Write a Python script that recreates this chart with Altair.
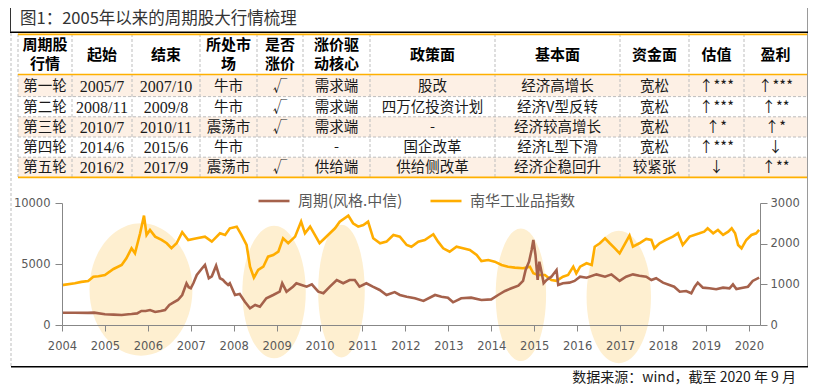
import altair as alt
import pandas as pd

# ======================= DATA =======================
title_text = "图1：2005年以来的周期股大行情梳理"
source_text = "数据来源：wind，截至 2020 年 9 月"

header = ["周期股\n行情", "起始", "结束", "所处市\n场", "是否\n涨价", "涨价驱\n动核心",
          "政策面", "基本面", "资金面", "估值", "盈利"]
rounds = ["第一轮", "第二轮", "第三轮", "第四轮", "第五轮"]
starts = ["2005/7", "2008/11", "2010/7", "2014/6", "2016/2"]
ends = ["2007/10", "2009/8", "2010/11", "2015/6", "2017/9"]
market = ["牛市", "牛市", "震荡市", "牛市", "震荡市"]
price_up = ["√", "√", "√", "", "√"]
driver = ["需求端", "需求端", "需求端", "-", "供给端"]
policy = ["股改", "四万亿投资计划", "-", "国企改革", "供给侧改革"]
fundamentals = ["经济高增长", "经济V型反转", "经济较高增长", "经济L型下滑", "经济企稳回升"]
liquidity = ["宽松", "宽松", "宽松", "宽松", "较紧张"]
valuation = ["↑***", "↑***", "↑*", "↑***", "↓"]
profit = ["↑***", "↑**", "↑*", "↓", "↑**"]

series_names = ["周期(风格.中信)", "南华工业品指数"]

cyc_year = [2004.00, 2004.30, 2004.60, 2004.75, 2005.00, 2005.20, 2005.39, 2005.55, 2005.62, 2005.75,
            2005.85, 2005.95, 2006.05, 2006.17, 2006.30, 2006.40, 2006.50, 2006.60, 2006.70, 2006.80,
            2006.90, 2006.95, 2007.00, 2007.06, 2007.14, 2007.25, 2007.33, 2007.42, 2007.49, 2007.59,
            2007.68, 2007.75, 2007.80, 2007.87, 2007.91, 2008.03, 2008.14, 2008.26, 2008.38, 2008.50,
            2008.61, 2008.76, 2008.92, 2009.07, 2009.13, 2009.23, 2009.38, 2009.46, 2009.58, 2009.70,
            2009.82, 2009.97, 2010.09, 2010.24, 2010.40, 2010.55, 2010.70, 2010.82, 2010.93, 2011.09,
            2011.24, 2011.40, 2011.56, 2011.75, 2011.87, 2012.03, 2012.22, 2012.42, 2012.69, 2012.84,
            2012.99, 2013.11, 2013.30, 2013.53, 2013.77, 2014.00, 2014.16, 2014.32, 2014.47, 2014.63,
            2014.74, 2014.80, 2014.88, 2014.94, 2014.98, 2015.03, 2015.08, 2015.12, 2015.17, 2015.22,
            2015.29, 2015.40, 2015.52, 2015.56, 2015.67, 2015.82, 2015.94, 2016.07, 2016.22, 2016.45,
            2016.65, 2016.80, 2016.99, 2017.14, 2017.30, 2017.45, 2017.61, 2017.73, 2017.84, 2018.00,
            2018.15, 2018.26, 2018.39, 2018.54, 2018.66, 2018.74, 2018.81, 2018.93, 2019.08, 2019.24,
            2019.40, 2019.55, 2019.63, 2019.71, 2019.86, 2019.98, 2020.09, 2020.24]
cyc_value = [1000, 1000, 990, 1010, 880, 850, 820, 880, 900, 950,
             1150, 1150, 1230, 1070, 1150, 1230, 1640, 1850, 2050, 2460,
             3420, 3100, 3010, 3420, 4100, 4590, 4920, 3830, 3990, 4860,
             3830, 3700, 3500, 3280, 3420, 2460, 2540, 1910, 1370, 1640,
             1500, 2190, 2460, 2730, 3420, 2730, 3140, 3420, 3280, 3140,
             3330, 2730, 2600, 3140, 3690, 3420, 3690, 3690, 3140, 3420,
             3140, 2870, 2460, 2700, 2460, 2320, 2190, 1970, 2460, 2320,
             2240, 1860, 2190, 2240, 2050, 2100, 2460, 2790, 3010, 3220,
             3610, 4510, 5190, 6150, 6970, 5740, 3690, 5190, 4370, 3420,
             3690, 3960, 4510, 3280, 3420, 3470, 3610, 3960, 3880, 4150,
             3960, 4150, 3610, 3960, 4150, 4040, 3960, 3690, 3830, 3470,
             3280, 3140, 2730, 2790, 2600, 3140, 3470, 3060, 3010, 2930,
             3060, 3010, 3330, 2950, 3060, 3140, 3610, 3880]

nh_year = [2004.00, 2004.30, 2004.45, 2004.61, 2004.73, 2004.85, 2005.00, 2005.20, 2005.39, 2005.50,
           2005.62, 2005.70, 2005.82, 2005.91, 2005.97, 2006.05, 2006.17, 2006.32, 2006.44, 2006.55,
           2006.67, 2006.80, 2006.94, 2007.14, 2007.33, 2007.49, 2007.68, 2007.80, 2007.91, 2008.07,
           2008.18, 2008.30, 2008.38, 2008.47, 2008.57, 2008.69, 2008.80, 2008.92, 2009.04, 2009.15,
           2009.27, 2009.43, 2009.57, 2009.66, 2009.78, 2009.89, 2010.00, 2010.12, 2010.24, 2010.36,
           2010.47, 2010.67, 2010.78, 2010.90, 2011.02, 2011.13, 2011.25, 2011.41, 2011.56, 2011.72,
           2011.87, 2012.03, 2012.14, 2012.30, 2012.45, 2012.65, 2012.76, 2012.88, 2013.03, 2013.19,
           2013.34, 2013.50, 2013.66, 2013.77, 2013.93, 2014.08, 2014.24, 2014.39, 2014.55, 2014.74,
           2014.90, 2014.98, 2015.09, 2015.25, 2015.40, 2015.52, 2015.67, 2015.79, 2015.91, 2015.98,
           2016.07, 2016.22, 2016.34, 2016.41, 2016.53, 2016.65, 2016.76, 2016.88, 2016.99, 2017.10,
           2017.22, 2017.30, 2017.45, 2017.61, 2017.73, 2017.80, 2017.92, 2018.07, 2018.23, 2018.35,
           2018.46, 2018.62, 2018.73, 2018.85, 2018.96, 2019.04, 2019.17, 2019.28, 2019.40, 2019.52,
           2019.60, 2019.68, 2019.75, 2019.83, 2019.94, 2020.06, 2020.17, 2020.24]
nh_value = [980, 1026, 1060, 1082, 1188, 1200, 1230, 1378, 1476, 1640,
            1886, 1763, 2255, 2690, 2214, 2337, 2173, 2091, 2010, 1887,
            2010, 2280, 2091, 2132, 2173, 2050, 2255, 2214, 2378, 2419,
            2214, 1968, 1434, 1164, 1353, 1434, 1680, 1722, 1803, 2132,
            2010, 2173, 2542, 2255, 2419, 2214, 2010, 2132, 2255, 2378,
            2542, 2690, 2501, 2419, 2460, 2542, 2132, 2010, 2050, 2214,
            2173, 1968, 1926, 2050, 2091, 2231, 2050, 1886, 1803, 1926,
            1886, 1845, 1722, 1574, 1599, 1558, 1476, 1434, 1410, 1394,
            1434, 1271, 1230, 1230, 1107, 1085, 1188, 1230, 1434, 1271,
            1434, 1518, 1476, 1926, 2010, 2132, 2010, 1886, 1763, 1968,
            2198, 1926, 2010, 2116, 2091, 1886, 2010, 2091, 2173, 2255,
            1968, 2173, 2214, 2255, 2296, 2378, 2255, 2337, 2214, 2296,
            2378, 2255, 1968, 1886, 2091, 2214, 2255, 2337]

highlight_year = [2005.84, 2008.94, 2010.51, 2014.69, 2016.97]
highlight_value = [2910, 2706, 2780, 2480, 2300]

# ======================= LAYOUT / STYLE =======================
CJK = "Noto Sans CJK SC"
SERIF = "Liberation Serif"
AXISFONT = "DejaVu Sans"
BROWN = "#A5614B"
GOLD = "#FFAD00"
ELLIPSE = "#FEEFD0"
ORANGE = "#FFB000"
PEACH = "#FDF0E5"
GRID = "#BDBDBD"
TEXT = "#1a1a1a"
AXISC = "#595959"

PLOT_W, PLOT_H = 698, 122
PAD = {"left": 54, "top": 195, "right": 48, "bottom": 60}
OX = 8 + PAD["left"]
OY = 8 + PAD["top"]
PAGE_W, PAGE_H = 816, 388
px_x = alt.Scale(domain=[0, PAGE_W], range=[-OX, PAGE_W - OX], nice=False, zero=False)
px_y = alt.Scale(domain=[0, PAGE_H], range=[-OY, PAGE_H - OY], nice=False, zero=False)

col_edges = [18, 72, 132, 200, 257, 303, 370, 495, 620, 689, 744, 807]
row_edges = [34, 74.5, 96.6, 116.8, 137.0, 157.2, 177.4]
header_line_h = 19
ellipse_half_w = [51.5, 31.7, 23.3, 25.2, 32.2]
ellipse_half_h = [66.2, 66.3, 66.3, 66.3, 66.2]

year_scale = alt.Scale(domain=[2004, 2020.26], nice=False, zero=False)
left_scale = alt.Scale(domain=[0, 10000], nice=False, zero=False)
right_scale = alt.Scale(domain=[0, 3000], nice=False, zero=False)


def PX(f):
    return alt.X(f, type="quantitative", scale=px_x, axis=None)


def PY(f):
    return alt.Y(f, type="quantitative", scale=px_y, axis=None)


def rules(rows, color, width, dash=None):
    df = pd.DataFrame(rows, columns=["x", "x2", "y", "y2"])
    kw = dict(color=color, strokeWidth=width)
    if dash:
        kw["strokeDash"] = dash
    return alt.Chart(df).mark_rule(**kw).encode(
        x=PX("x"), x2="x2", y=PY("y"), y2="y2")


# ---- table background ----
bg_rows = [{"x": col_edges[0], "x2": col_edges[-1], "y": row_edges[r + 1], "y2": row_edges[r + 2]}
           for r in range(len(rounds)) if r % 2 == 0]
row_bg = alt.Chart(pd.DataFrame(bg_rows)).mark_rect(color=PEACH).encode(
    x=PX("x"), x2="x2", y=PY("y"), y2="y2")

# ---- table text ----
body_cols = [rounds, starts, ends, market, price_up, driver, policy, fundamentals,
             liquidity, valuation, profit]
serif_cols = {1, 2}
cells = []
for c, column in enumerate(body_cols):
    cx = (col_edges[c] + col_edges[c + 1]) / 2
    for r, txt in enumerate(column):
        cy = (row_edges[r + 1] + row_edges[r + 2]) / 2 + 1
        cells.append({"x": cx, "y": cy, "t": txt, "serif": c in serif_cols})
cells = pd.DataFrame(cells)

head_mid = (row_edges[0] + row_edges[1]) / 2 + 0.5
head = pd.DataFrame({
    "x": [(col_edges[i] + col_edges[i + 1]) / 2 for i in range(len(header))],
    "y": [head_mid - (h.count("\n")) * header_line_h / 2 for h in header],
    "t": header})

head_text = alt.Chart(head).mark_text(font=CJK, fontSize=15, fontWeight="bold", color="#000",
                                      lineBreak="\n", lineHeight=header_line_h, align="center",
                                      baseline="middle").encode(x=PX("x"), y=PY("y"), text="t:N")
body_text = alt.Chart(cells[~cells.serif]).mark_text(font=CJK, fontSize=14.5, color=TEXT,
                                                     align="center", baseline="middle").encode(
    x=PX("x"), y=PY("y"), text="t:N")
num_text = alt.Chart(cells[cells.serif]).mark_text(font=SERIF, fontSize=16, color=TEXT,
                                                   align="center", baseline="middle").encode(
    x=PX("x"), y=PY("y"), text="t:N")

# ---- table / frame lines ----
v_dash = rules([[x, x, row_edges[0], row_edges[-1]] for x in col_edges[:-1]], GRID, 1, [3, 2])
h_dash = rules([[col_edges[0], col_edges[-1], y, y] for y in row_edges[2:-1]], GRID, 1, [3, 2])
orange_lines = rules([[col_edges[0], col_edges[-1], row_edges[0] + 0.4, row_edges[0] + 0.4],
                      [col_edges[0], col_edges[-1], row_edges[1], row_edges[1]],
                      [col_edges[0], col_edges[-1], row_edges[-1], row_edges[-1]]], ORANGE, 1.6)
outer_dash = rules([[11, 11, 33, 367]], GRID, 1, [3, 2])
right_border = rules([[807.5, 807.5, 5, 367]], "#9a9a9a", 1)
black_lines = rules([[10, 808, 5.3, 5.3], [10, 808, 32.3, 32.3], [11, 808, 366.8, 366.8]],
                    "#000000", 1.6)
title_left = rules([[10.5, 10.5, 5, 32]], "#333333", 1)

# ---- title and source ----
title = alt.Chart(pd.DataFrame({"x": [20], "y": [19.2], "t": [title_text]})).mark_text(
    font=CJK, fontSize=16.5, color="#333333", align="left", baseline="middle").encode(
    x=PX("x"), y=PY("y"), text="t:N")
source = alt.Chart(pd.DataFrame({"x": [796], "y": [378], "t": [source_text]})).mark_text(
    font=CJK, fontSize=14, color=TEXT, align="right", baseline="middle").encode(
    x=PX("x"), y=PY("y"), text="t:N")


# ---- ellipses ----
def ellipse_path(a, b):
    return f"M {-a} 0 A {a} {b} 0 1 0 {a} 0 A {a} {b} 0 1 0 {-a} 0 Z"


ell_df = pd.DataFrame({"year": highlight_year, "value": highlight_value,
                       "shape": [ellipse_path(a, b) for a, b in zip(ellipse_half_w, ellipse_half_h)]})
ellipses = alt.Chart(ell_df).mark_point(filled=True, size=4, opacity=1, color=ELLIPSE,
                                        strokeWidth=0).encode(
    x=alt.X("year:Q", scale=year_scale, axis=None),
    y=alt.Y("value:Q", scale=left_scale, axis=None),
    shape=alt.Shape("shape:N", scale=None),
)

# ---- lines ----
color_enc = alt.Color("series:N",
                      scale=alt.Scale(domain=series_names, range=[BROWN, GOLD]),
                      legend=alt.Legend(orient="none", legendX=195, legendY=-19,
                                        direction="horizontal", title=None,
                                        symbolType="stroke", symbolSize=961,
                                        symbolStrokeWidth=2.6, labelFont=CJK,
                                        labelFontSize=15, labelColor=AXISC,
                                        columnPadding=22, labelOffset=7, padding=0,
                                        labelLimit=300))

axis_common = dict(labelFont=AXISFONT, labelFontSize=11.5, labelColor=AXISC,
                   domainColor="#878787", tickColor="#878787", grid=False, title=None,
                   zindex=1)

cyc_df = pd.DataFrame({"year": cyc_year, "value": cyc_value, "series": series_names[0]})
nh_df = pd.DataFrame({"year": nh_year, "value": nh_value, "series": series_names[1]})

nh_line = alt.Chart(nh_df).mark_line(strokeWidth=2.6).encode(
    x=alt.X("year:Q", scale=year_scale, axis=None),
    y=alt.Y("value:Q", scale=right_scale,
            axis=alt.Axis(orient="right", values=[0, 1000, 2000, 3000], format="d",
                          tickSize=7, labelPadding=3, **axis_common)),
    color=color_enc,
)
cyc_line = alt.Chart(cyc_df).mark_line(strokeWidth=2.6).encode(
    x=alt.X("year:Q", scale=year_scale,
            axis=alt.Axis(values=list(range(2004, 2021)), format="d", tickSize=6,
                          labelPadding=9, labelFlush=False, labelOverlap=False,
                          **axis_common)),
    y=alt.Y("value:Q", scale=left_scale,
            axis=alt.Axis(orient="left", values=[0, 5000, 10000], format="d",
                          tickSize=7, labelPadding=5, **axis_common)),
    color=color_enc,
)

chart = alt.layer(
    row_bg, ellipses, nh_line, cyc_line,
    v_dash, h_dash, orange_lines, outer_dash, right_border, black_lines, title_left,
    head_text, body_text, num_text, title, source,
).resolve_scale(x="independent", y="independent").properties(
    width=PLOT_W, height=PLOT_H, padding=PAD,
    autosize=alt.AutoSizeParams(type="none"), background="white",
).configure_view(stroke=None)

chart.save("out.html", embed_options={"renderer": "svg", "actions": False})
